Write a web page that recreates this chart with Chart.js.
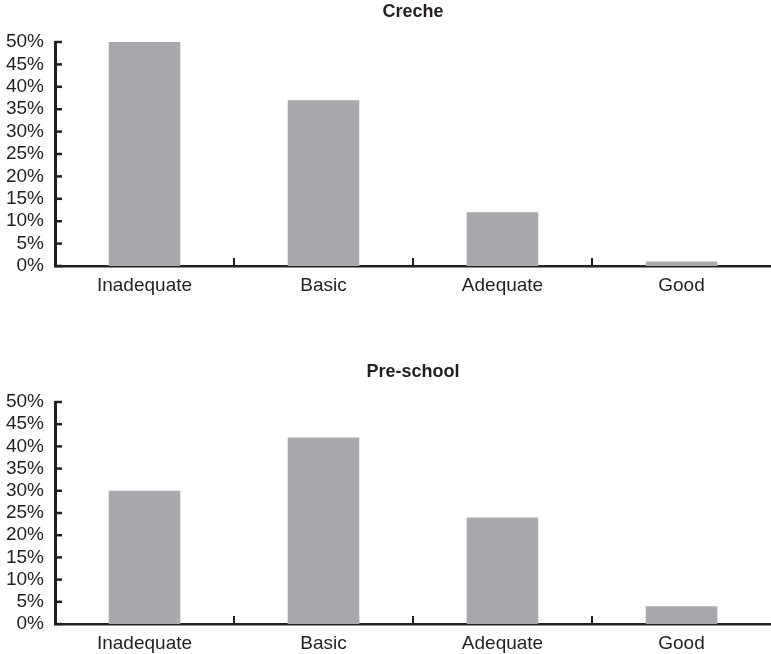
<!DOCTYPE html>
<html lang="en">
<head>
    <meta charset="UTF-8">
    <title>Creche / Pre-school</title>
    <script src="https://cdn.jsdelivr.net/npm/chart.js"></script>
    <style>
        html, body { margin: 0; padding: 0; background: #ffffff; overflow: hidden; }
        body { width: 771px; height: 654px; position: relative; }
        .box { position: absolute; left: 0; width: 771px; }
        #boxTop { top: 0; height: 300px; }
        #boxBottom { top: 360px; height: 298px; }
    </style>
    <script>
        // data
        const categories = ['Inadequate', 'Basic', 'Adequate', 'Good'];
        const crecheValues = [50, 37, 12, 1];
        const preschoolValues = [30, 42, 24, 4];
        const yTicks = [0, 5, 10, 15, 20, 25, 30, 35, 40, 45, 50];

        const ink = '#231f20';
        const barColor = '#a7a9ac';

        // tick marks pointing into the plot, like the original
        const innerTicks = {
            id: 'innerTicks',
            afterDatasetsDraw(chart) {
                const { ctx, chartArea, scales } = chart;
                const x = scales.x, y = scales.y;
                ctx.save();
                ctx.strokeStyle = ink;
                ctx.lineWidth = 2.5;
                y.ticks.forEach((t, i) => {
                    const py = y.getPixelForTick(i);
                    ctx.beginPath();
                    ctx.moveTo(chartArea.left, py);
                    ctx.lineTo(chartArea.left + 7, py);
                    ctx.stroke();
                });
                ctx.lineWidth = 2;
                for (let i = 1; i < x.ticks.length; i++) {
                    const px = (x.getPixelForTick(i - 1) + x.getPixelForTick(i)) / 2;
                    ctx.beginPath();
                    ctx.moveTo(px, chartArea.bottom);
                    ctx.lineTo(px, chartArea.bottom - 8);
                    ctx.stroke();
                }
                ctx.restore();
            }
        };

        // title centred over the plot area rather than the whole canvas
        const plotTitle = {
            id: 'plotTitle',
            afterDraw(chart, args, opts) {
                const { ctx, chartArea } = chart;
                ctx.save();
                ctx.fillStyle = ink;
                ctx.font = 'bold 18px "Liberation Sans"';
                ctx.textAlign = 'center';
                ctx.textBaseline = 'middle';
                ctx.fillText(opts.text, (chartArea.left + chartArea.right) / 2, chartArea.top - 30);
                ctx.restore();
            }
        };

        function makeChart(id, title, values) {
            const ctx = document.getElementById(id).getContext('2d');
            return new Chart(ctx, {
                type: 'bar',
                data: {
                    labels: categories,
                    datasets: [{
                        label: title,
                        data: values,
                        backgroundColor: barColor,
                        borderWidth: 0,
                        barPercentage: 0.4,
                        categoryPercentage: 1
                    }]
                },
                options: {
                    responsive: false,
                    animation: false,
                    layout: { padding: { top: 42, right: 0, bottom: 0, left: 0 } },
                    plugins: {
                        legend: { display: false },
                        tooltip: { enabled: false },
                        title: { display: false },
                        plotTitle: { text: title }
                    },
                    scales: {
                        x: {
                            afterFit: (scale) => { scale.height = 34; },
                            grid: { display: false },
                            border: { display: true, color: ink, width: 2.5 },
                            ticks: {
                                color: ink,
                                padding: 0,
                                font: { family: 'Liberation Sans', size: 19 }
                            }
                        },
                        y: {
                            min: 0,
                            max: 50,
                            afterBuildTicks: (scale) => {
                                scale.ticks = yTicks.map(v => ({ value: v }));
                            },
                            afterFit: (scale) => { scale.width = 55; },
                            grid: { display: false },
                            border: { display: true, color: ink, width: 3 },
                            ticks: {
                                color: ink,
                                padding: 3,
                                autoSkip: false,
                                font: { family: 'Liberation Sans', size: 19 },
                                callback: (v) => v + '%'
                            }
                        }
                    }
                },
                plugins: [innerTicks, plotTitle]
            });
        }

        window.onload = () => {
            makeChart('creche', 'Creche', crecheValues);
            makeChart('preschool', 'Pre-school', preschoolValues);
        };
    </script>
</head>
<body>
<div class="box" id="boxTop"><canvas id="creche" width="771" height="300"></canvas></div>
<div class="box" id="boxBottom"><canvas id="preschool" width="771" height="298"></canvas></div>
</body>
</html>
